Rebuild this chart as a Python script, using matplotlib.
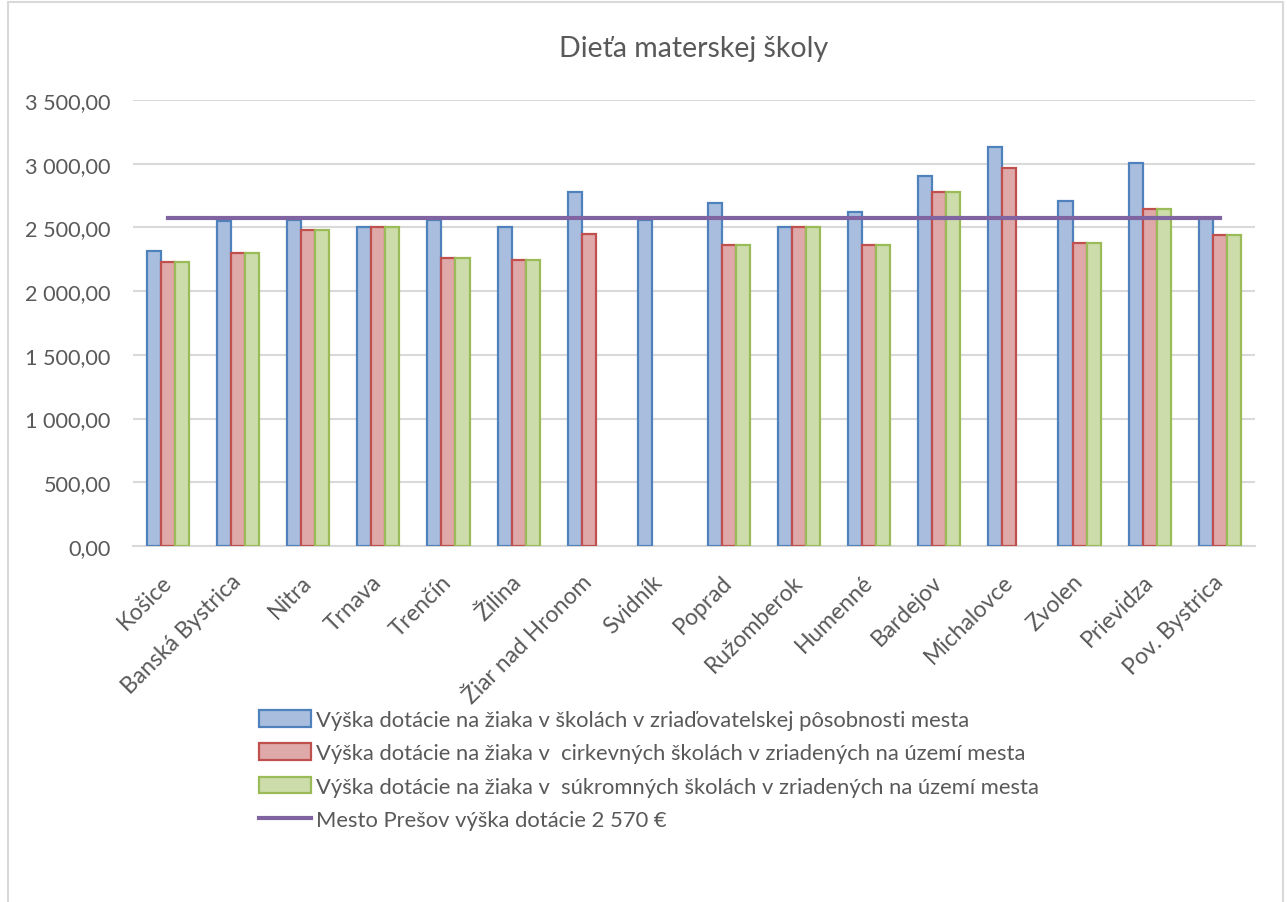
import numpy as np
import matplotlib.pyplot as plt
from matplotlib.patches import Rectangle
from matplotlib.ticker import FuncFormatter

plt.rcParams['font.family'] = ['Lato', 'DejaVu Sans']

cities = ["Košice", "Banská Bystrica", "Nitra", "Trnava", "Trenčín", "Žilina",
          "Žiar nad Hronom", "Svidník", "Poprad", "Ružomberok", "Humenné",
          "Bardejov", "Michalovce", "Zvolen", "Prievidza", "Pov. Bystrica"]
mesto = [2318, 2550, 2560, 2500, 2560, 2500, 2780, 2560, 2690, 2500, 2624,
         2900, 3128, 2706, 3004, 2570]
cirkevne = [2227, 2297, 2483, 2500, 2260, 2247, 2446, None, 2365, 2500, 2360,
            2781, 2970, 2381, 2643, 2444]
sukromne = [2227, 2297, 2483, 2500, 2260, 2247, None, None, 2365, 2500, 2360,
            2781, None, 2381, 2643, 2444]
presov = 2570

labels = ["Výška dotácie na žiaka v školách v zriaďovatelskej pôsobnosti mesta",
          "Výška dotácie na žiaka v  cirkevných školách v zriadených na území mesta",
          "Výška dotácie na žiaka v  súkromných školách v zriadených na území mesta",
          "Mesto Prešov výška dotácie 2 570 €"]

gray = "#595959"
fig = plt.figure(figsize=(12.87, 9.03), dpi=100)
ax = fig.add_axes([0.1033, 0.3942, 0.8717, 0.494])

x = np.arange(len(cities))
w = 0.2
series = [(mesto, "#A9BEDF", "#4F81BD"),
          (cirkevne, "#DEA9A8", "#C0504D"),
          (sukromne, "#CCDDAB", "#9BBB59")]
handles = []
for i, (vals, fc, ec) in enumerate(series):
    v = np.array([np.nan if a is None else a for a in vals], dtype=float)
    b = ax.bar(x + (i - 1) * w, v, w, color=fc, edgecolor=ec, linewidth=1.6,
               label=labels[i], zorder=3)
    handles.append(b)

ln, = ax.plot(x, [presov] * len(x), color="#8064A2", lw=3, zorder=4,
              label=labels[3])
handles.append(ln)

ax.set_xlim(-0.5, len(cities) - 0.5)
ax.set_ylim(0, 3500)
ax.set_yticks(np.arange(0, 3501, 500))
ax.yaxis.set_major_formatter(FuncFormatter(
    lambda v, p: f"{v:,.2f}".replace(",", " ").replace(".", ",")))
ax.grid(axis="y", color="#D9D9D9", lw=1.5, zorder=0)
for s in ["top", "right", "left"]:
    ax.spines[s].set_visible(False)
ax.spines["bottom"].set_color("#D9D9D9")
ax.spines["bottom"].set_linewidth(1.5)
ax.tick_params(length=0, colors=gray)
ax.tick_params(axis="y", labelsize=15.6, pad=16)
ax.tick_params(axis="x", labelsize=16.5, pad=23)
ax.set_xticks(x)
ax.set_xticklabels(cities, rotation=45, ha="right", va="center",
                   rotation_mode="anchor")

fig.text(0.539, 0.946, "Dieťa materskej školy", ha="center", va="center",
         fontsize=20.5, color=gray)

leg = fig.legend(handles=handles, labels=labels, loc="upper left",
                 bbox_to_anchor=(0.186, 0.2345), bbox_transform=fig.transFigure,
                 frameon=False, fontsize=15.85, labelcolor=gray,
                 handlelength=2.35, handleheight=0.8, handletextpad=0.25,
                 labelspacing=0.6)

fig.patches.append(Rectangle((8 / 1287, -0.01), 1275 / 1287, 1 - 3 / 903 + 0.01,
                             transform=fig.transFigure, fill=False,
                             edgecolor="#D9D9D9", lw=1.5))

fig.savefig("out.png", dpi=100)
